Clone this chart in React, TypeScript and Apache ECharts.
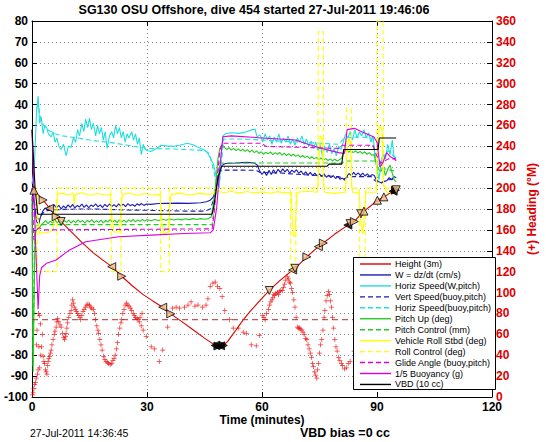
import React, { useEffect, useRef } from 'react';
import * as echarts from 'echarts';

const FONT = '"Liberation Sans", Arial, Helvetica, sans-serif';

const titleText = 'SG130 OSU Offshore, dive 454 started 27-Jul-2011 19:46:06';
const xTicks = [0, 30, 60, 90, 120];
const headingTarget = 74;

const heightData = [[0,0],[0.5,-1],[2.9,-5.7],[4.6,-9.7],[6.3,-13.7],[7.6,-16],[10,-20.5],[13,-26],[16,-31],[18.5,-34.5],[20.8,-37.6],[23.4,-42.2],[26,-46.5],[29,-51],[31.5,-54],[34.1,-57],[36.2,-60.2],[39,-63.8],[42,-67.8],[45,-71.8],[47.8,-75.3],[48.5,-75.6],[49.2,-75.5],[49.9,-75.3],[51,-73.5],[53,-68.5],[55,-63.3],[57,-58.8],[59.5,-53.8],[61.9,-49],[64.5,-44.5],[68,-39.2],[68.6,-38.4],[71.7,-32.9],[74.7,-28],[76,-26.3],[79,-22],[82.4,-17.7],[83,-17],[84.1,-16],[85.8,-12.3],[86.6,-11],[88.5,-8.3],[90.1,-5.8],[91.8,-4.2],[94.2,-1.5],[94.8,-1],[95,-0.8]];

// [t, height, rotation, black?]
const eventMarks = [[0.5,-1,0,0],[2.9,-5.7,-90,0],[4.6,-9.7,90,0],[6.3,-13.7,-90,0],[7.6,-16,180,0],[20.8,-37.6,90,0],[23.4,-42.2,-90,0],[34.1,-57,90,0],[36.2,-60.2,-90,0],[47.8,-75.3,90,1],[48.5,-75.6,-90,1],[49.2,-75.5,90,1],[49.9,-75.3,-90,1],[61.9,-49,180,0],[68,-39.2,90,0],[68.6,-38.4,180,0],[71.7,-32.9,-90,0],[74.7,-28,90,0],[76,-26.3,-90,0],[82.4,-17.7,90,1],[83,-17,180,0],[84.1,-16,-90,0],[85.8,-12.3,180,0],[86.6,-11,0,0],[90.1,-5.8,0,0],[91.8,-4.2,0,0],[94.2,-1.5,90,1],[94.8,-1,-90,1],[95,-0.8,180,0]];

const wData = [[0,0],[0.6,-8],[1.2,-16],[1.7,-17.5],[2.2,-14],[2.8,-11],[3.4,-9.5],[4,-10.5],[4.6,-8.5],[5.2,-9.8],[5.8,-8],[6.4,-9.5],[7,-8.2],[7.6,-10],[8.2,-8.5],[8.8,-9.6],[9.4,-8],[10,-9.2],[10.6,-7.8],[11.2,-9.5],[11.8,-8.3],[12.4,-9],[13,-7.6],[13.6,-9.2],[14.2,-8],[14.8,-9.4],[15.4,-8.1],[16,-8.8],[16.6,-7.5],[17.2,-9],[17.8,-8],[18.4,-9.3],[19,-7.8],[19.6,-8.9],[20.2,-7.6],[20.8,-8.8],[21.4,-7.9],[22,-9],[22.6,-7.5],[23.2,-8.6],[23.8,-7.7],[24.4,-8.9],[25,-7.4],[25.6,-8.4],[26.2,-7.8],[26.8,-8.7],[27.4,-7.5],[28,-8.2],[28.6,-7.4],[29.2,-8.3],[29.8,-7.6],[31,-7.8],[33,-7.4],[35,-7.3],[38,-7.2],[41,-7.3],[44,-7],[45.5,-6.5],[46.5,-5.8],[47.2,-4.5],[47.8,-2],[48.4,3],[49,8.5],[49.6,11],[50.5,11.8],[53,12],[56,12.3],[58,12],[58.8,11],[59.3,8.5],[60,6.5],[60.6,8],[61.2,6],[61.8,8.5],[62.4,6.5],[63,8.8],[63.6,7],[64.2,9],[64.8,7.5],[65.4,9.2],[66,7.8],[66.6,9],[67.2,7.2],[67.8,8.6],[68.4,7.5],[69,8.8],[69.6,7],[70.2,8.2],[70.8,6.5],[71.4,7.8],[72,6.2],[72.6,7.5],[73.2,6],[73.8,7.2],[74.4,5.8],[75,6.8],[75.6,5.5],[76.2,6.8],[76.8,5.2],[77.4,6.2],[78,5],[78.6,6],[79.2,4.6],[79.8,5.6],[80.4,4.2],[81,4.8],[81.5,3.8],[82.1,5.5],[82.7,7],[83.3,6],[83.9,7.5],[84.5,6.2],[85.1,7.3],[85.7,6],[86.3,7.2],[86.9,5.8],[87.5,6.8],[88.1,5.5],[88.7,6.5],[89.3,6],[89.8,4],[90.5,3],[91.2,2.5],[91.8,3.2],[92.5,3.5],[93.2,5],[93.8,4],[94.4,5.5],[95,5]];

const horizSpeedW = [[0,2],[0.6,10],[1.2,37],[1.6,44],[2,31],[2.4,34],[2.9,26],[3.3,30],[3.8,29],[4.3,26],[5,24.5],[5.5,27],[6,22],[6.5,24],[7,20],[7.6,18.5],[8.2,21],[8.9,15.5],[9.5,20],[10.2,19.5],[10.8,24],[11.4,22],[11.9,28],[12.4,25],[13,31],[13.5,27],[14,33],[14.5,29],[15,33.5],[15.5,28],[16,31],[16.6,25],[17.1,30],[17.6,26],[18.1,29],[18.6,23],[19.1,27],[19.6,19],[20.2,25],[20.8,27],[21.3,24],[21.8,30],[22.3,26],[22.8,29],[23.3,24],[23.8,27],[24.3,22],[24.8,26],[25.3,24],[26,27],[26.5,23],[27,26],[27.5,21],[28,24],[28.5,16],[29,21],[29.4,19],[30,18],[31,17.5],[32,18.5],[33.7,20.5],[35,20.2],[37,20],[38.5,20.5],[40.5,21.5],[42,20.8],[43,19.8],[44.5,18.6],[45.6,17.4],[46.5,14.5],[47.4,11],[48.2,4.6],[48.8,1],[49.3,14],[49.8,25],[50.5,26],[52,26.5],[54,26.2],[56,27],[57.5,28],[58.2,28.2],[58.7,24.5],[59.5,25.5],[60.2,22],[60.8,26],[61.4,23],[62,25],[62.6,21],[63.2,24.5],[63.8,22],[64.4,26],[65,21.5],[65.6,24],[66.2,22],[66.8,25],[67.4,21],[68,23.5],[68.6,20.5],[69.2,24],[69.8,22],[70.4,25],[71,21],[71.6,23.5],[72.2,20],[72.8,22.5],[73.4,19],[74,22],[74.6,18],[75.2,21],[75.8,15],[76.4,20],[77,17],[77.6,21],[78.2,16.5],[78.8,19],[79.4,15.5],[80,20],[80.6,18.5],[81.2,22],[81.8,26],[82.4,24],[83,27],[83.6,23],[84.2,28],[84.8,24],[85.4,27],[86,25],[86.6,28],[87.2,24],[87.8,26.5],[88.4,22],[89,25],[89.5,14],[90,10],[90.5,4],[91,11],[91.6,17],[92.2,14],[92.8,21],[93.4,16],[94,23],[94.5,14],[95,15]];

const vertSpeedBuoy = [[0.6,-6],[1.2,-14],[1.8,-15],[2.5,-12.5],[3.5,-11],[5,-10.5],[8,-10.2],[12,-10],[16,-10],[20,-10.2],[25,-10.5],[30,-10.6],[35,-10.8],[40,-11],[45,-11],[46.5,-10],[47.3,-6],[48,0],[48.7,6],[49.4,8.6],[55,8.6],[58.5,8.5],[59.5,7.5],[65,7.2],[70,6.5],[75,6],[80,5.5],[81.5,4.5],[82.5,5.5],[88.5,5.5],[89.5,3.5],[91,2.5],[93,4],[95,4.5]];

const horizSpeedBuoy = [[1.2,38],[1.6,40],[2.2,34],[3,30],[4,28],[5,27],[6,26],[8,25],[10,24.5],[12,24],[15,23],[18,22.3],[20,22],[25,20.5],[30,19],[35,18.8],[40,18.5],[45,18],[46.3,16.5],[47.3,9],[48.2,2],[48.8,0],[49.4,12],[50,23.5],[55,23.5],[60,23],[65,22.5],[70,22],[75,21.5],[80,21],[81.5,24],[85,24.5],[88.5,24],[89.5,16],[90.5,10],[91.5,15],[93,18],[95,14]];

const pitchUp = [[0,-5],[0.25,-85],[0.5,-60],[0.8,-22],[1.2,-20],[1.8,-19],[2.5,-17.5],[3,-16.5],[3.6,-15.5],[4.2,-17],[4.8,-15.8],[5.4,-16.8],[6,-15.2],[6.6,-16.6],[7.2,-15.6],[7.8,-17],[8.4,-15.5],[9,-16.4],[9.6,-15.3],[10.2,-16.7],[10.8,-15.6],[11.4,-16.5],[12,-15.2],[12.6,-16.3],[13.2,-15.5],[13.8,-16.8],[14.4,-15.4],[15,-16.2],[15.6,-15.1],[16.2,-16.5],[16.8,-15.6],[17.4,-16.4],[18,-15.3],[18.6,-16.6],[19.2,-15.5],[19.8,-16.2],[20.4,-15.1],[21,-16.3],[21.6,-15.4],[22.2,-16.5],[22.8,-15.2],[23.4,-16.1],[24,-15.3],[24.6,-16.4],[25.2,-15.2],[25.8,-16],[26.4,-15],[27,-16.2],[27.6,-15.2],[28.2,-15.9],[28.8,-15],[29.4,-15.8],[30,-15.1],[31,-15.6],[32,-15],[33,-15.5],[34,-14.9],[35,-15.4],[36,-14.8],[37,-15.3],[38,-14.8],[39,-15.2],[40,-14.7],[41,-15.1],[42,-14.6],[43,-15],[44,-14.6],[45,-14.9],[46,-14.6],[46.7,-14],[47.3,-8],[47.9,2],[48.5,14],[49,19],[49.6,20.5],[50.2,19.5],[50.8,18.5],[51.4,19.4],[52,18.2],[52.6,19],[53.2,18],[53.8,18.8],[54.4,17.8],[55,18.6],[55.6,17.6],[56.2,18.4],[56.8,17.2],[57.4,18.2],[58,17],[58.6,17.8],[59.2,16.6],[59.8,17.4],[60.4,16.2],[61,17.2],[61.6,16.4],[62.2,17.3],[62.8,16],[63.4,17],[64,16.2],[64.6,17.1],[65.2,15.8],[65.8,16.7],[66.4,15.6],[67,16.5],[67.6,15.4],[68.2,16.2],[68.8,15.2],[69.4,15.9],[70,14.8],[70.6,15.6],[71.2,14.6],[71.8,15.3],[72.4,14.2],[73,15],[73.6,14],[74.2,14.7],[74.8,13.6],[75.4,14.4],[76,13.4],[76.6,14.1],[77.2,13.2],[77.8,13.9],[78.4,13.1],[79,13.8],[79.6,13],[80.2,13.6],[80.8,14.5],[81.4,17.5],[82,18.2],[82.6,17.2],[83.2,18],[83.8,17],[84.4,17.8],[85,16.8],[85.6,17.6],[86.2,16.5],[86.8,17.4],[87.4,16.2],[88,17],[88.6,15.8],[89.2,16],[89.8,12],[90.4,9],[91,8],[91.6,10],[92.2,6],[92.8,9],[93.4,11],[94,7],[94.5,4],[95,3]];

const pitchControl = [[0,0],[0.3,-88],[0.6,-30],[1,-18],[2,-17.5],[47,-17.5],[47.5,-10],[48.3,5],[49,12],[81,12],[81.5,13],[89.5,13],[90,10],[95,8]];

const vehicleRoll = [[0,0],[0.5,-3],[1.3,-3],[1.6,-15],[2,-22],[3,-21],[4,-21.5],[5.5,-20],[6.3,-10],[6.6,-3],[8,-2.4],[9.5,-3.3],[10.8,-2.5],[11,-8],[11.3,-3],[13,-2.2],[15,-3.4],[17,-2.6],[19,-3.3],[20.5,-3.2],[20.9,-15],[21.4,-21],[22.8,-21],[23.3,-8],[23.6,-3],[25.5,-2.3],[27.5,-3.4],[29.5,-2.6],[31.5,-3.3],[33.4,-3],[33.8,-15],[34.3,-22],[35.5,-21],[36,-8],[36.3,-3],[38.5,-2.4],[41,-3.3],[43.5,-2.5],[46.5,-3],[47.5,-2],[48.5,-1.5],[50,-2.2],[52,-1.5],[54,-2.4],[56,-1.6],[58,-2.3],[60,-1.8],[62,-2.5],[64,-1.7],[66,-2.3],[67.6,-2],[67.9,-15],[68.2,-23],[68.6,-23],[68.9,-10],[69.2,-2],[72,-1.5],[74.5,-2],[74.8,10],[75.2,25],[75.7,24],[76,5],[76.3,-2],[79,-2.5],[81.8,-2],[82.1,15],[82.6,24],[83.1,22],[83.4,0],[83.7,-2],[85.4,-2.5],[85.7,-15],[86.3,-22],[86.8,-10],[87.1,-2],[89.8,-2],[90.1,20],[90.6,30],[91.3,28],[91.7,2],[92.5,-2],[95,-2]];

const rollControl = [[0,0],[1.3,0],[1.4,-40],[6.5,-40],[6.6,0],[20.6,0],[20.7,-40],[23.2,-40],[23.3,0],[33.5,0],[33.6,-40],[35.8,-40],[35.9,0],[48,0],[67.4,0],[67.5,-40],[68.8,-40],[68.9,0],[74.6,0],[74.7,75],[76,75],[76.1,0],[81.9,0],[82,38],[83.3,38],[83.4,0],[85.4,0],[85.5,-37],[86.9,-37],[87,0],[89.9,0],[90,80],[91.6,80],[91.7,0],[95,0]];

const glideAngle = [[0,0],[0.5,-25],[1,-20],[2,-19],[3,-20],[47,-19.5],[47.5,-12],[48.3,5],[49,18],[49.6,21.5],[60,21.5],[61,20],[80,19],[81,20.5],[89,20.5],[89.8,16],[91,12],[93,14],[95,14]];

const buoyancy = [[0,28],[0.8,-20],[1.6,-58],[2,-42],[2.5,-38],[3.8,-36],[6.3,-34.4],[9.7,-29.7],[14,-25.7],[22.6,-23.3],[31.1,-22.5],[39.7,-21.7],[46.5,-21.4],[47.3,-20],[48.2,-9],[49,10],[49.8,24.6],[52,25],[60,24],[68.7,23],[72,21],[75.6,19],[80,17],[81.5,16.6],[82.2,28],[84.1,28.6],[86,27],[89.2,24.5],[90,22],[90.8,10],[91.5,12],[92.5,17],[93.5,15],[94.5,14],[95,13]];

const vbd = [[0,28],[0.8,0],[1.5,-12.5],[47,-12.5],[47.5,-8],[48.5,5],[49.5,10.5],[77,10.5],[77.5,11.5],[80.8,11.5],[81.3,18.5],[90.3,18.5],[90.6,24],[95,24]];

const headingData = [[0.1,2],[0.3,4],[0.5,8],[0.7,12],[0.9,14],[1.1,18],[1.2,50],[1.3,64],[1.4,22],[1.6,26],[1.7,80],[1.8,48],[2,28],[2,78],[2.2,70],[2.3,40],[2.5,48],[2.7,60],[2.9,39],[3.1,34],[3.3,32],[3.5,26],[3.7,24],[3.9,22],[4.1,30],[4.2,34],[4.4,37],[4.6,39],[4.8,42],[5,45],[5.2,50],[5.5,55],[5.8,60],[6,63],[6.3,67],[6.5,72],[6.7,75],[7,72],[7.3,69],[7.6,67],[8,61],[8.3,57],[8.5,55],[8.7,58],[8.9,61],[9.1,66],[9.3,71],[9.6,76],[9.9,80],[10.2,83],[10.4,88],[10.6,93],[10.8,90],[11,86],[11.3,84],[11.6,82],[11.9,80],[12.2,78],[12.5,76],[12.7,74],[13,78],[13.3,82],[13.6,84],[14,86],[14.3,88],[14.6,89],[15,88],[15.3,86],[15.6,85],[16,84],[16.3,80],[16.6,74],[16.9,68],[17.2,64],[17.4,61],[17.7,55],[18,50],[18.3,45],[18.7,39],[19,36],[19.3,34],[19.7,33],[20,32],[20.4,31],[20.8,32],[21.1,35],[21.4,37],[21.7,40],[22,46],[22.3,52],[22.6,60],[22.9,66],[23.2,71],[23.4,74],[23.7,80],[24,84],[24.3,88],[24.7,90],[25,88],[25.3,87],[25.7,85],[26,83],[26.4,80],[26.7,78],[27,76],[27.4,75],[27.7,74],[28,72],[28.2,76],[28.5,68],[28.7,80],[29,64],[29.8,58],[31.1,48],[31.9,46],[33.2,34],[34.1,45],[35.4,67],[36.7,85],[37.6,86],[38.5,85],[39.8,86],[40.7,88],[41.5,91],[42.5,87],[43.3,88],[44.5,86],[45.4,88],[45.9,94],[46.5,106],[47.2,109],[47.8,110],[48.4,106],[49,104],[49.6,96],[50.3,83],[51.5,74],[52.5,66],[53.8,66],[55.1,62],[55.9,61],[57.2,50],[58.5,49],[59.3,59],[60.2,78],[60.5,76],[60.8,74],[61.2,80],[61.7,84],[62,88],[62.3,91],[62.6,93],[62.8,95],[63.1,98],[63.3,97],[63.6,99],[64,100],[64.3,98],[64.5,101],[64.9,102],[65.3,102],[65.6,105],[65.9,108],[66.2,112],[66.6,115],[66.9,113],[67.2,110],[67.4,109],[67.7,104],[68,100],[68.3,93],[68.6,86],[68.9,76],[69.2,67],[69.5,66],[69.8,66],[70.1,65],[70.4,64],[70.7,62],[71,60],[71.4,56],[71.7,55],[72,50],[72.3,46],[72.6,42],[72.9,38],[73.2,32],[73.4,29],[73.7,24],[74,21],[74.3,18],[74.5,26],[74.7,32],[75,42],[75.3,50],[75.6,55],[75.9,64],[76.2,76],[76.4,83],[76.7,92],[77,97],[77.3,101],[77.6,98],[77.9,92],[78.1,86],[78.4,76],[78.7,66],[79,55],[79.3,48],[79.6,44],[80,38],[80.3,35],[80.7,32],[81,30],[81.5,27],[82,28],[82.5,32],[83,34],[84,44],[85,58],[86,70],[87,64],[88,52],[89,40],[90,30],[91,38],[92,52],[93,60],[94,56],[95,50]];

const legendNames = ['Height (3m)','W = dz/dt (cm/s)','Horiz Speed(W,pitch)','Vert Speed(buoy,pitch)','Horiz Speed(buoy,pitch)','Pitch Up (deg)','Pitch Control (mm)','Vehicle Roll Stbd (deg)','Roll Control (deg)','Glide Angle (buoy,pitch)','1/5 Buoyancy (g)','VBD (10 cc)'];
const legendColors = ['#dd0000','#1c1cb4','#22dede','#1c1cb4','#22dede','#22cc22','#22cc22','#ffff00','#ffff00','#dd00dd','#dd00dd','#000000'];
const legendDashed = [false,false,false,true,true,false,true,false,true,true,false,false];
const seriesData = [heightData, wData, horizSpeedW, vertSpeedBuoy, horizSpeedBuoy, pitchUp, pitchControl, vehicleRoll, rollControl, glideAngle, buoyancy, vbd];

function buildOption() {
  const lines: any[] = seriesData.map((d, i) => ({
    type: 'line', name: legendNames[i], data: d, showSymbol: false, symbol: 'none', silent: true,
    xAxisIndex: 0, yAxisIndex: 0,
    lineStyle: { color: legendColors[i], width: 1.1, type: legendDashed[i] ? [5, 3] : 'solid' },
    itemStyle: { color: legendColors[i] }, z: 2 + i * 0.01,
  }));
  lines.push({
    type: 'scatter', name: 'heading', data: headingData, xAxisIndex: 0, yAxisIndex: 1, silent: true,
    symbol: 'path://M-0.6,-4H0.6V-0.6H4V0.6H0.6V4H-0.6V0.6H-4V-0.6H-0.6Z', symbolSize: 5,
    itemStyle: { color: '#ee0000' }, z: 3,
  });
  lines.push({
    type: 'line', name: 'target', data: [[0, headingTarget], [120, headingTarget]], xAxisIndex: 0, yAxisIndex: 1,
    showSymbol: false, symbol: 'none', silent: true,
    lineStyle: { color: '#a83232', width: 1, type: [6, 4] }, z: 3,
  });
  lines.push({
    type: 'scatter', name: 'events', xAxisIndex: 0, yAxisIndex: 0, silent: true, symbol: 'triangle', symbolSize: 8, z: 4,
    data: eventMarks.map((m) => ({
      value: [m[0], m[1]], symbolRotate: m[2],
      itemStyle: { color: m[3] ? '#000' : '#f2bc84', borderColor: '#000', borderWidth: 1 },
    })),
  });

  const axisText = { color: '#000', fontWeight: 'bold', fontSize: 12, fontFamily: FONT };
  const graphic: any[] = [
    { type: 'text', z: 100, style: { text: titleText, x: 254, y: 10, align: 'center', verticalAlign: 'middle', textAlign: 'center', textVerticalAlign: 'middle', font: `bold 12.5px ${FONT}`, fill: '#000' } },
    { type: 'text', z: 100, style: { text: '27-Jul-2011 14:36:45', x: 30, y: 433, verticalAlign: 'middle', textVerticalAlign: 'middle', font: `10.5px ${FONT}`, fill: '#000' } },
    { type: 'text', z: 100, style: { text: 'VBD bias =0 cc', x: 300, y: 433, verticalAlign: 'middle', textVerticalAlign: 'middle', font: `bold 12.5px ${FONT}`, fill: '#000' } },
    { type: 'rect', z: 100, shape: { x: 353.5, y: 257.5, width: 142, height: 132 }, style: { fill: '#fff', stroke: '#000', lineWidth: 1 } },
  ];
  legendNames.forEach((n, i) => {
    const y = 264 + i * 10.95;
    graphic.push({ type: 'line', z: 101, shape: { x1: 360, y1: y, x2: 391, y2: y }, style: { stroke: legendColors[i], lineWidth: 1.4, lineDash: legendDashed[i] ? [5, 3] : null } });
    graphic.push({ type: 'text', z: 101, style: { text: n, x: 395, y, verticalAlign: 'middle', textVerticalAlign: 'middle', font: `9px ${FONT}`, fill: '#000' } });
  });

  return {
    animation: false,
    backgroundColor: '#fff',
    grid: { left: 32, right: 46, top: 21, bottom: 45 },
    xAxis: [
      { type: 'value', min: xTicks[0], max: xTicks[xTicks.length - 1], interval: 30, position: 'bottom',
        axisLine: { show: true, onZero: false, lineStyle: { color: '#000', width: 1 } },
        axisTick: { show: true, inside: true, length: 5, lineStyle: { color: '#000' } },
        axisLabel: { ...axisText, margin: 4 },
        splitLine: { show: true, lineStyle: { color: '#888', type: [1, 3], width: 1 } },
        name: 'Time (minutes)', nameLocation: 'middle', nameGap: 17, nameMoveOverlap: false, nameTextStyle: axisText },
      { type: 'value', min: 0, max: 120, interval: 30, position: 'top',
        axisLine: { show: true, onZero: false, lineStyle: { color: '#000', width: 1 } },
        axisTick: { show: true, inside: true, length: 5, lineStyle: { color: '#000' } },
        axisLabel: { show: false }, splitLine: { show: false } },
    ],
    yAxis: [
      { type: 'value', min: -100, max: 80, interval: 10, position: 'left',
        axisLine: { show: true, onZero: false, lineStyle: { color: '#000', width: 1 } },
        axisTick: { show: true, inside: true, length: 5, lineStyle: { color: '#000' } },
        axisLabel: { ...axisText, margin: 4 },
        splitLine: { show: true, lineStyle: { color: '#888', type: [1, 3], width: 1 } } },
      { type: 'value', min: 0, max: 360, interval: 20, position: 'right',
        axisLine: { show: true, onZero: false, lineStyle: { color: '#000', width: 1 } },
        axisTick: { show: true, inside: true, length: 5, lineStyle: { color: '#000' } },
        axisLabel: { ...axisText, color: '#dd0000', margin: 4 },
        splitLine: { show: false },
        name: '(+) Heading (°M)', nameLocation: 'middle', nameRotate: 90, nameGap: 34, nameMoveOverlap: false,
        nameTextStyle: { ...axisText, color: '#dd0000' } },
    ],
    series: lines,
    graphic,
  };
}

export default function App() {
  const ref = useRef<HTMLDivElement>(null);
  useEffect(() => {
    const chart = echarts.init(ref.current as HTMLDivElement, null, { renderer: 'svg' });
    chart.setOption(buildOption() as any);
    return () => chart.dispose();
  }, []);
  return <div ref={ref} style={{ position: 'fixed', left: 0, top: 0, width: 546, height: 442, background: '#fff' }} />;
}
